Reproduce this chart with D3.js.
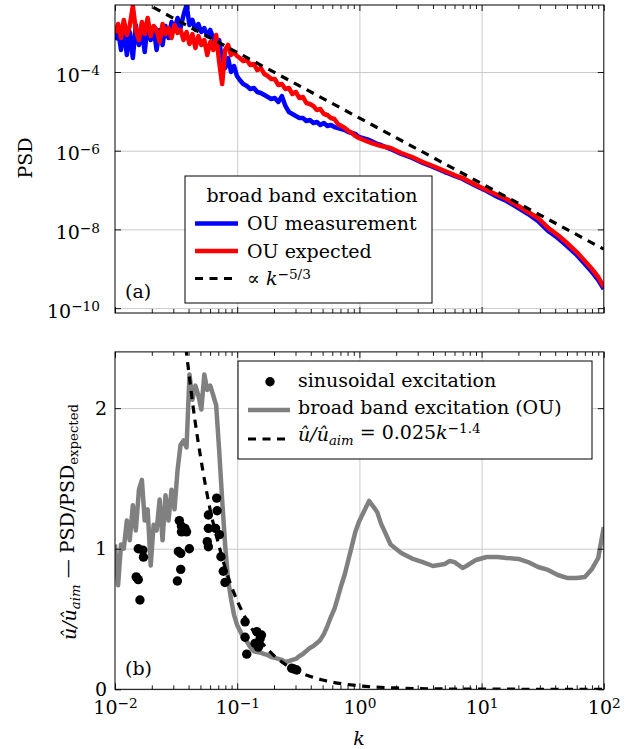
<!DOCTYPE html>
<html>
<head>
<meta charset="utf-8">
<script src="https://cdn.jsdelivr.net/npm/d3@7"></script>
<style>
  body { margin: 0; background: #fff; }
  text { font-family: "DejaVu Serif", serif; fill: #000; }
</style>
</head>
<body>
<svg id="chart" width="627" height="749"></svg>
<script>
// wavenumbers k shared by the three broad band curves
var kGrid = [
  0.0100, 0.0106, 0.0112, 0.0118, 0.0125, 0.0132, 0.0140, 0.0148, 0.0157, 0.0166,
  0.0175, 0.0185, 0.0196, 0.0207, 0.0219, 0.0232, 0.0245, 0.0259, 0.0274, 0.0290,
  0.0307, 0.0325, 0.0344, 0.0364, 0.0385, 0.0407, 0.0430, 0.0455, 0.0481, 0.0509,
  0.0538, 0.0569, 0.0602, 0.0637, 0.0673, 0.0712, 0.0753, 0.0796, 0.0842, 0.0891,
  0.0942, 0.0996,
  0.105, 0.112, 0.120, 0.128, 0.137, 0.146, 0.156, 0.167, 0.178, 0.190,
  0.203, 0.217, 0.232, 0.248, 0.265, 0.283, 0.302, 0.323, 0.345, 0.368,
  0.393, 0.420, 0.449, 0.479, 0.512, 0.547, 0.584, 0.624, 0.667, 0.712,
  0.760, 0.812, 0.868, 0.927, 0.990,
  1.2, 1.3, 1.4, 1.5, 1.8, 2.2, 2.7, 3.3, 4, 5,
  5.5, 6, 7, 7.5, 9, 11, 13.5, 16, 20, 24,
  29, 35, 42, 50, 60, 70, 80, 90, 100
];

// (a) PSD of the OU measurement (blue)
var psdMeasured = [
  6.5e-4, 1.17e-3, 3.62e-4, 1.31e-3, 2.7e-4, 1.04e-3, 2.27e-4, 1.56e-3, 4.86e-4, 1.17e-3,
  3.22e-4, 1.66e-3, 6.5e-4, 1.31e-3, 3.62e-4, 1.17e-3, 4.86e-4, 1.48e-3, 7.3e-4, 1.86e-3,
  1.17e-3, 2.36e-3, 1.31e-3, 2.81e-3, 5.04e-3, 1.56e-3, 2.1e-3, 1.17e-3, 1.66e-3, 1.04e-3,
  1.31e-3, 8.2e-4, 1.17e-3, 7.3e-4, 4.07e-4, 6.5e-4, 1.8e-4, 1.26e-4, 2.27e-4, 1.0e-4,
  1.42e-4, 7.9e-5,
  6.26e-5, 4.95e-5, 4.41e-5, 3.7e-5, 3.92e-5, 3.1e-5, 2.93e-5, 2.6e-5, 2.32e-5, 2.06e-5,
  2.18e-5, 1.73e-5, 2.45e-5, 1.37e-5, 9.63e-6, 8.56e-6, 7.62e-6, 6.78e-6, 6.78e-6, 5.68e-6,
  6.03e-6, 5.06e-6, 5.36e-6, 4.5e-6, 5.06e-6, 4.24e-6, 4.5e-6, 4.0e-6, 3.78e-6, 3.56e-6,
  3.36e-6, 2.99e-6, 2.82e-6, 2.66e-6, 2.23e-6,
  1.87e-6, 1.66e-6, 1.48e-6, 1.40e-6, 1.10e-6, 8.24e-7, 6.52e-7, 4.87e-7, 3.85e-7, 2.87e-7,
  2.56e-7, 2.28e-7, 1.91e-7, 1.70e-7, 1.27e-7, 9.46e-8, 6.66e-8, 5.27e-8, 3.5e-8, 2.46e-8,
  1.63e-8, 9.1e-9, 6.05e-9, 3.79e-9, 2.24e-9, 1.32e-9, 8.27e-10, 5.18e-10, 3.06e-10
];

// (a) PSD expected for the OU process (red)
var psdExpected = [
  9.8e-4, 1.66e-3, 7.3e-4, 2.1e-3, 8.7e-4, 1.48e-3, 4.75e-3, 1.17e-3, 6.5e-4, 1.86e-3,
  9.2e-4, 2.36e-3, 8.2e-4, 1.48e-3, 1.17e-3, 5.8e-4, 1.66e-3, 9.2e-4, 1.31e-3, 7.3e-4,
  1.56e-3, 9.8e-4, 1.17e-3, 6.5e-4, 1.04e-3, 5.15e-4, 9.2e-4, 4.07e-4, 8.2e-4, 4.86e-4,
  6.5e-4, 2.7e-4, 5.8e-4, 3.62e-4, 8.7e-4, 1.8e-4, 4.95e-5, 3.62e-4, 4.86e-4, 2.7e-4,
  3.22e-4, 2.55e-4,
  2.27e-4, 1.9e-4, 2.02e-4, 1.51e-4, 1.6e-4, 1.12e-4, 1.26e-4, 8.9e-5, 7.9e-5, 6.64e-5,
  6.64e-5, 4.67e-5, 4.95e-5, 3.7e-5, 3.92e-5, 2.76e-5, 3.1e-5, 2.18e-5, 2.32e-5, 1.63e-5,
  1.54e-5, 1.37e-5, 1.08e-5, 1.15e-5, 8.56e-6, 8.08e-6, 6.78e-6, 6.39e-6, 4.77e-6, 4.24e-6,
  3.78e-6, 3.17e-6, 2.82e-6, 2.36e-6, 2.1e-6,
  1.66e-6, 1.52e-6, 1.40e-6, 1.32e-6, 1.17e-6, 8.74e-7, 6.92e-7, 5.16e-7, 4.08e-7, 3.05e-7,
  2.71e-7, 2.41e-7, 2.02e-7, 1.80e-7, 1.34e-7, 1.0e-7, 7.48e-8, 5.92e-8, 3.93e-8, 2.77e-8,
  1.95e-8, 1.09e-8, 7.2e-9, 4.51e-9, 2.66e-9, 1.57e-9, 9.85e-10, 6.17e-10, 3.44e-10
];

// (a) reference slope ~ k^(-5/3), two end points
var slopeK = [0.01, 100];
var slopePSD = [1.46e-2, 3.14e-9];

// (b) PSD / PSD_expected of the broad band excitation (grey)
var ratioBroadband = [
  1.03, 0.74, 1.03, 1.0, 1.2, 1.06, 1.31, 1.13, 1.42, 1.49,
  1.2, 1.28, 0.88, 1.17, 1.13, 1.35, 1.06, 1.38, 1.2, 1.42,
  1.28, 1.56, 1.74, 1.77, 1.72, 2.24, 2.06, 2.16, 2.09, 1.99,
  2.24, 2.13, 2.16, 2.09, 2.02, 1.70, 1.35, 1.03, 0.78, 0.64,
  0.53, 0.46,
  0.42, 0.37, 0.34, 0.30, 0.27, 0.265, 0.26, 0.25, 0.244, 0.23,
  0.223, 0.216, 0.209, 0.194, 0.201, 0.209, 0.216, 0.237, 0.251, 0.273,
  0.294, 0.308, 0.329, 0.351, 0.393, 0.45, 0.514, 0.571, 0.656, 0.742,
  0.82, 0.92, 1.02, 1.12, 1.19,
  1.34, 1.30, 1.26, 1.18, 1.03, 0.97, 0.93, 0.905, 0.877, 0.891,
  0.913, 0.905, 0.863, 0.877, 0.92, 0.941, 0.941, 0.934, 0.927, 0.905,
  0.87, 0.849, 0.813, 0.792, 0.792, 0.799, 0.856, 0.934, 1.154
];

// (b) sinusoidal excitation, amplitude ratio u/u_aim
var sineK = [
  0.0155, 0.0169, 0.0171, 0.0149, 0.0155, 0.0160,
  0.0336, 0.0350, 0.0374, 0.0385, 0.0406, 0.0330, 0.0345, 0.0345, 0.0324, 0.0350,
  0.0679, 0.0685, 0.0581, 0.0581, 0.0665, 0.0715, 0.0569, 0.0581, 0.0736, 0.0769, 0.0794,
  0.116, 0.116, 0.1197, 0.1446, 0.154, 0.140, 0.149, 0.158,
  0.279, 0.307, 0.290
];
var sineRatio = [
  1.00, 0.99, 0.94, 0.80, 0.78, 0.635,
  1.20, 1.16, 1.145, 1.12, 1.00, 0.98, 0.967, 0.853, 0.77, 1.12,
  1.36, 1.27, 1.24, 1.145, 1.145, 1.10, 1.05, 1.014, 0.943, 0.84, 0.76,
  0.48, 0.37, 0.25, 0.41, 0.36, 0.327, 0.30, 0.386,
  0.15, 0.137, 0.145
];

// (b) fit u/u_aim = 0.025 k^-1.4
var fitK = [0.038, 0.04, 0.045, 0.05, 0.06, 0.07, 0.08, 0.1, 0.12, 0.15, 0.2, 0.3, 0.5, 1, 2, 5, 10, 100];
var fitRatio = [2.43, 2.27, 1.92, 1.66, 1.28, 1.04, 0.86, 0.63, 0.49, 0.36, 0.24, 0.135, 0.066, 0.025, 0.0095, 0.0026, 0.001, 0.00004];

var xMajor = [0.01, 0.1, 1, 10, 100];
var psdTicks = [1e-10, 1e-8, 1e-6, 1e-4];
var ratioTicks = [0, 1, 2];

// ---------- layout ----------
var svg = d3.select("#chart");
var FS = 19;
var left = 115, right = 603.8;
var topA = 5, botA = 313;
var topB = 351.9, botB = 689.3;

var x = d3.scaleLog().domain([0.01, 100]).range([left, right]);
var yA = d3.scaleLog().domain([Math.pow(10, -10.1245), Math.pow(10, -2.2973)]).range([botA, topA]);
var yB = d3.scaleLinear().domain([0, 2.4]).range([botB, topB]);

// minor ticks 2..9 in every decade
var xMinor = [];
xMajor.slice(0, -1).forEach(function(d) {
  for (var m = 2; m < 10; m++) xMinor.push(d * m);
});

function sup(t, base, exp) {
  t.append("tspan").text(base);
  t.append("tspan").attr("dy", "-0.45em").attr("font-size", "0.72em").text(exp);
}
function expLabel(d) {
  var e = Math.round(Math.log10(d));
  return e < 0 ? "\u2212" + (-e) : String(e);
}

// grid and clip of one panel
function panel(name, y, y0, y1, yTicks) {
  var h = y1 - y0;
  var g = svg.append("g").attr("class", name);

  svg.append("clipPath").attr("id", "clip-" + name)
    .append("rect").attr("x", left).attr("y", y0).attr("width", right - left).attr("height", h);

  // vertical grid
  g.append("g").attr("transform", "translate(0," + y1 + ")")
    .attr("color", "#c4c4c4")
    .call(d3.axisBottom(x).tickValues([0.1, 1, 10]).tickSize(-h).tickFormat(""))
    .call(function(s) { s.select(".domain").remove(); });
  // horizontal grid
  g.append("g").attr("transform", "translate(" + left + ",0)")
    .attr("color", "#c4c4c4")
    .call(d3.axisLeft(y).tickValues(yTicks).tickSize(-(right - left)).tickFormat(""))
    .call(function(s) { s.select(".domain").remove(); });

  return g;
}

// inward ticks on all four sides plus the frame
function ticks(g, y, y0, y1, yTicks) {
  var axes = [
    d3.axisBottom(x).tickValues(xMajor).tickSize(-6), y1,
    d3.axisTop(x).tickValues(xMajor).tickSize(-6), y0,
    d3.axisBottom(x).tickValues(xMinor).tickSize(-4), y1,
    d3.axisTop(x).tickValues(xMinor).tickSize(-4), y0
  ];
  for (var i = 0; i < axes.length; i += 2) {
    g.append("g").attr("transform", "translate(0," + axes[i + 1] + ")")
      .call(axes[i].tickFormat(""))
      .call(function(s) { s.select(".domain").remove(); });
  }
  g.append("g").attr("transform", "translate(" + left + ",0)")
    .call(d3.axisLeft(y).tickValues(yTicks).tickSize(-6).tickFormat(""))
    .call(function(s) { s.select(".domain").remove(); });
  g.append("g").attr("transform", "translate(" + right + ",0)")
    .call(d3.axisRight(y).tickValues(yTicks).tickSize(-6).tickFormat(""))
    .call(function(s) { s.select(".domain").remove(); });
  g.selectAll(".tick line").attr("stroke-width", 0.9);

  g.append("rect")
    .attr("x", left).attr("y", y0).attr("width", right - left).attr("height", y1 - y0)
    .attr("fill", "none").attr("stroke", "#000").attr("stroke-width", 1);
}

// ---------- panel (a) ----------
var gA = panel("a", yA, topA, botA, psdTicks);
var lineA = d3.line().x(function(d) { return x(d[0]); }).y(function(d) { return yA(d[1]); });
var plotA = gA.append("g").attr("clip-path", "url(#clip-a)");

plotA.append("path")
  .datum(d3.zip(kGrid, psdMeasured))
  .attr("d", lineA).attr("fill", "none")
  .attr("stroke", "#0000ff").attr("stroke-width", 4.5).attr("stroke-linejoin", "round");
plotA.append("path")
  .datum(d3.zip(kGrid, psdExpected))
  .attr("d", lineA).attr("fill", "none")
  .attr("stroke", "#ff0000").attr("stroke-width", 4.5).attr("stroke-linejoin", "round");
plotA.append("path")
  .datum(d3.zip(slopeK, slopePSD))
  .attr("d", lineA).attr("fill", "none")
  .attr("stroke", "#000").attr("stroke-width", 3.2).attr("stroke-dasharray", "8,6.5");

ticks(gA, yA, topA, botA, psdTicks);

// y tick labels 10^n
gA.append("g").attr("transform", "translate(" + left + ",0)")
  .call(d3.axisLeft(yA).tickValues(psdTicks).tickSize(0).tickFormat(""))
  .call(function(s) { s.select(".domain").remove(); })
  .selectAll(".tick").append("text")
    .attr("x", -15).attr("y", 9).attr("text-anchor", "end").attr("font-size", FS)
    .each(function(d) { sup(d3.select(this), "10", expLabel(d)); });

gA.append("text").attr("x", 125).attr("y", 298).attr("font-size", FS).text("(a)");
gA.append("text").attr("transform", "translate(32,158) rotate(-90)")
  .attr("text-anchor", "middle").attr("font-size", FS).text("PSD");

// legend (a)
var legA = gA.append("g");
legA.append("rect").attr("x", 185).attr("y", 176).attr("width", 247).attr("height", 127)
  .attr("fill", "#fff").attr("stroke", "#000").attr("stroke-width", 1);
legA.append("text").attr("x", 312).attr("y", 202).attr("text-anchor", "middle")
  .attr("font-size", FS).text("broad band excitation");
var entriesA = [
  {color: "#0000ff", dash: null, w: 4.5, label: "OU measurement", y: 223.5},
  {color: "#ff0000", dash: null, w: 4.5, label: "OU expected", y: 251},
  {color: "#000", dash: "8,6.5", w: 3.2, label: null, y: 278.5}
];
entriesA.forEach(function(e) {
  legA.append("line").attr("x1", 195).attr("x2", 238).attr("y1", e.y).attr("y2", e.y)
    .attr("stroke", e.color).attr("stroke-width", e.w).attr("stroke-dasharray", e.dash);
  var t = legA.append("text").attr("x", 247).attr("y", e.y + 6.5).attr("font-size", FS);
  if (e.label) t.text(e.label);
  else {
    t.append("tspan").text("\u221D ");
    t.append("tspan").attr("font-style", "italic").text("k");
    t.append("tspan").attr("dy", "-0.45em").attr("font-size", "0.72em").text("\u22125/3");
  }
});

// ---------- panel (b) ----------
var gB = panel("b", yB, topB, botB, ratioTicks);
var lineB = d3.line().x(function(d) { return x(d[0]); }).y(function(d) { return yB(d[1]); });
var plotB = gB.append("g").attr("clip-path", "url(#clip-b)");

plotB.append("path")
  .datum(d3.zip(kGrid, ratioBroadband))
  .attr("d", lineB).attr("fill", "none")
  .attr("stroke", "#808080").attr("stroke-width", 4.5).attr("stroke-linejoin", "round");
plotB.append("path")
  .datum(d3.zip(fitK, fitRatio))
  .attr("d", lineB.curve(d3.curveMonotoneX)).attr("fill", "none")
  .attr("stroke", "#000").attr("stroke-width", 3.2).attr("stroke-dasharray", "8,6.5");
plotB.selectAll("circle")
  .data(d3.zip(sineK, sineRatio))
  .enter().append("circle")
    .attr("cx", function(d) { return x(d[0]); })
    .attr("cy", function(d) { return yB(d[1]); })
    .attr("r", 4.7).attr("fill", "#000");

ticks(gB, yB, topB, botB, ratioTicks);

// x tick labels 10^n
gB.append("g").attr("transform", "translate(0," + botB + ")")
  .call(d3.axisBottom(x).tickValues(xMajor).tickSize(0).tickFormat(""))
  .call(function(s) { s.select(".domain").remove(); })
  .selectAll(".tick").append("text")
    .attr("y", 25).attr("text-anchor", "middle").attr("font-size", FS)
    .each(function(d) { sup(d3.select(this), "10", expLabel(d)); });

// y tick labels
gB.append("g").attr("transform", "translate(" + left + ",0)")
  .call(d3.axisLeft(yB).tickValues(ratioTicks).tickSize(0).tickFormat(""))
  .call(function(s) { s.select(".domain").remove(); })
  .selectAll(".tick").append("text")
    .attr("x", -8).attr("y", 6).attr("text-anchor", "end").attr("font-size", FS)
    .text(function(d) { return d; });

gB.append("text").attr("x", 125).attr("y", 675).attr("font-size", FS).text("(b)");
gB.append("text").attr("x", 359).attr("y", 745).attr("text-anchor", "middle")
  .attr("font-size", FS).attr("font-style", "italic").text("k");

var yl = gB.append("text").attr("transform", "translate(76,522) rotate(-90)")
  .attr("text-anchor", "middle").attr("font-size", FS);
yl.append("tspan").attr("font-style", "italic").text("\u00FB/\u00FB");
yl.append("tspan").attr("font-style", "italic").attr("font-size", "0.7em").attr("dy", "0.3em").text("aim");
yl.append("tspan").attr("dy", "-0.3em").text(" \u2014 PSD/PSD");
yl.append("tspan").attr("font-size", "0.7em").attr("dy", "0.3em").text("expected");

// legend (b)
var legB = gB.append("g");
legB.append("rect").attr("x", 238).attr("y", 361).attr("width", 354).attr("height", 98)
  .attr("fill", "#fff").attr("stroke", "#000").attr("stroke-width", 1);
legB.append("circle").attr("cx", 270).attr("cy", 381.7).attr("r", 4.7).attr("fill", "#000");
legB.append("text").attr("x", 298).attr("y", 387).attr("font-size", FS).text("sinusoidal excitation");
legB.append("line").attr("x1", 248).attr("x2", 290).attr("y1", 410).attr("y2", 410)
  .attr("stroke", "#808080").attr("stroke-width", 4.5);
legB.append("text").attr("x", 298).attr("y", 414).attr("font-size", FS).text("broad band excitation (OU)");
legB.append("line").attr("x1", 248).attr("x2", 290).attr("y1", 439).attr("y2", 439)
  .attr("stroke", "#000").attr("stroke-width", 3.2).attr("stroke-dasharray", "8,6.5");
var fitText = legB.append("text").attr("x", 298).attr("y", 441).attr("font-size", FS);
fitText.append("tspan").attr("font-style", "italic").text("\u00FB/\u00FB");
fitText.append("tspan").attr("font-style", "italic").attr("font-size", "0.7em").attr("dy", "0.3em").text("aim");
fitText.append("tspan").attr("dy", "-0.3em").text(" = 0.025");
fitText.append("tspan").attr("font-style", "italic").text("k");
fitText.append("tspan").attr("dy", "-0.45em").attr("font-size", "0.72em").text("\u22121.4");
</script>
</body>
</html>
